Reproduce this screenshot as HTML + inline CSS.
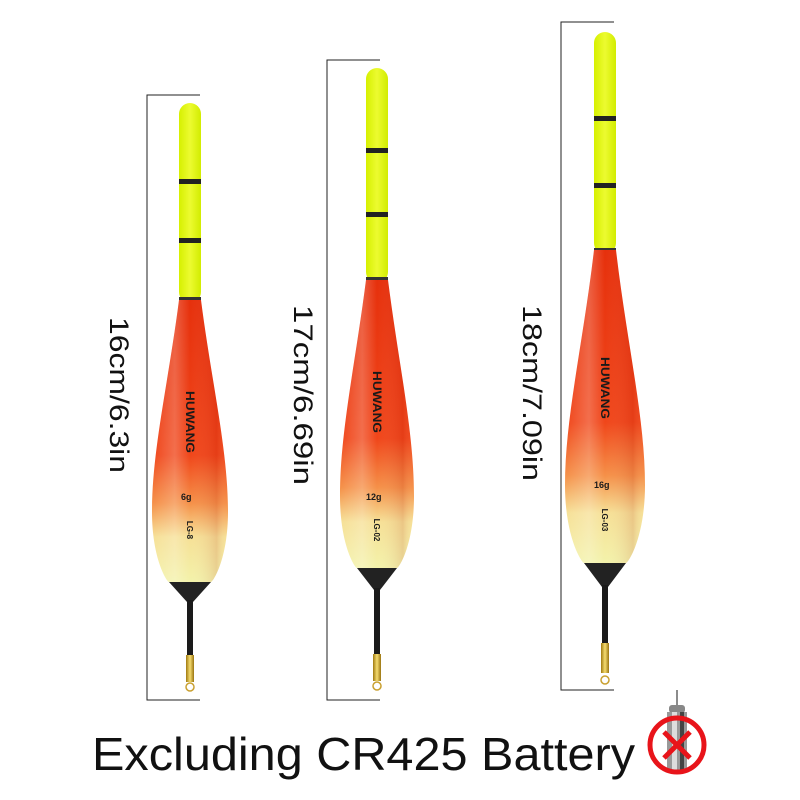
<!DOCTYPE html>
<html><head><meta charset="utf-8"><style>body{margin:0;background:#fff}svg{display:block}</style></head><body>
<svg width="800" height="800" viewBox="0 0 800 800" xmlns="http://www.w3.org/2000/svg" font-family="Liberation Sans, sans-serif">
<defs>
<linearGradient id="bg" x1="0" y1="0" x2="0" y2="1">
<stop offset="0" stop-color="#e6300c"/><stop offset="0.55" stop-color="#f0461a"/><stop offset="0.72" stop-color="#f59048"/><stop offset="0.84" stop-color="#f6e096"/><stop offset="1" stop-color="#f3f2aa"/></linearGradient>
<linearGradient id="hl" x1="0" y1="0" x2="1" y2="0">
<stop offset="0" stop-color="#fff" stop-opacity="0"/><stop offset="0.3" stop-color="#fff" stop-opacity="0.22"/><stop offset="0.5" stop-color="#fff" stop-opacity="0"/><stop offset="0.85" stop-color="#900" stop-opacity="0.12"/><stop offset="1" stop-color="#fff" stop-opacity="0"/></linearGradient>
<linearGradient id="gd" x1="0" y1="0" x2="1" y2="0"><stop offset="0" stop-color="#a07a10"/><stop offset="0.5" stop-color="#f5dc70"/><stop offset="1" stop-color="#9a7410"/></linearGradient>
<linearGradient id="yt" x1="0" y1="0" x2="1" y2="0"><stop offset="0" stop-color="#d6f000"/><stop offset="0.5" stop-color="#ecfb30"/><stop offset="1" stop-color="#d2ec00"/></linearGradient>
</defs>
<g stroke="#222" stroke-width="1" fill="none">
<path d="M200 95H147V700H200"/>
<path d="M380 60H327V700H380"/>
<path d="M614 22H561V690H614"/>
</g>
<g font-size="27" fill="#111">
<text transform="translate(110,395) rotate(90)" text-anchor="middle" textLength="156" lengthAdjust="spacingAndGlyphs">16cm/6.3in</text>
<text transform="translate(294,395) rotate(90)" text-anchor="middle" textLength="180" lengthAdjust="spacingAndGlyphs">17cm/6.69in</text>
<text transform="translate(523,393) rotate(90)" text-anchor="middle" textLength="176" lengthAdjust="spacingAndGlyphs">18cm/7.09in</text>
</g>
<!-- float 1 -->
<rect x="179" y="103" width="22" height="200" rx="11" fill="url(#yt)"/>
<rect x="179" y="179" width="22" height="5" fill="#222"/><rect x="179" y="238" width="22" height="5" fill="#222"/>
<rect x="179" y="297" width="22" height="4" fill="#333"/>
<path d="M179 300 C168 385,152 450,152 512 C152 559,167 582,169 582 L211 582 C213 582,228 559,228 512 C228 450,212 385,201 300Z" fill="url(#bg)"/>
<path d="M179 300 C168 385,152 450,152 512 C152 559,167 582,169 582 L211 582 C213 582,228 559,228 512 C228 450,212 385,201 300Z" fill="url(#hl)"/>
<path d="M169 582 L211 582 L193 602 L187 602Z" fill="#222"/>
<rect x="187" y="600" width="6" height="58" fill="#1a1a1a"/><rect x="186" y="655" width="8" height="27" fill="url(#gd)"/>
<circle cx="190" cy="687" r="4" fill="none" stroke="#c9a030" stroke-width="1.5"/>
<g font-size="12" font-weight="bold" fill="#1a1a1a">
<text transform="translate(186,422) rotate(90)" text-anchor="middle" textLength="62" lengthAdjust="spacingAndGlyphs">HUWANG</text>
<text x="181" y="500" font-size="9">6g</text>
<text transform="translate(187,530) rotate(90)" text-anchor="middle" font-size="8">LG-8</text>
</g>
<!-- float 2 -->
<rect x="366" y="68" width="22" height="215" rx="11" fill="url(#yt)"/>
<rect x="366" y="148" width="22" height="5" fill="#222"/><rect x="366" y="212" width="22" height="5" fill="#222"/>
<rect x="366" y="277" width="22" height="4" fill="#333"/>
<path d="M366 280 C355 366,340 432,340 496 C340 545,355 568,357 568 L397 568 C399 568,414 545,414 496 C414 432,399 366,388 280Z" fill="url(#bg)"/>
<path d="M366 280 C355 366,340 432,340 496 C340 545,355 568,357 568 L397 568 C399 568,414 545,414 496 C414 432,399 366,388 280Z" fill="url(#hl)"/>
<path d="M357 568 L397 568 L380 590 L374 590Z" fill="#222"/>
<rect x="374" y="588" width="6" height="70" fill="#1a1a1a"/><rect x="373" y="654" width="8" height="27" fill="url(#gd)"/>
<circle cx="377" cy="686" r="4" fill="none" stroke="#c9a030" stroke-width="1.5"/>
<g font-size="12" font-weight="bold" fill="#1a1a1a">
<text transform="translate(373,402) rotate(90)" text-anchor="middle" textLength="62" lengthAdjust="spacingAndGlyphs">HUWANG</text>
<text x="366" y="500" font-size="9">12g</text>
<text transform="translate(374,530) rotate(90)" text-anchor="middle" font-size="8">LG-02</text>
</g>
<!-- float 3 -->
<rect x="594" y="32" width="22" height="222" rx="11" fill="url(#yt)"/>
<rect x="594" y="116" width="22" height="5" fill="#222"/><rect x="594" y="183" width="22" height="5" fill="#222"/>
<rect x="594" y="248" width="22" height="4" fill="#333"/>
<path d="M594 250 C583 344,565 418,565 485 C565 538,582 563,584 563 L626 563 C628 563,645 538,645 485 C645 418,627 344,616 250Z" fill="url(#bg)"/>
<path d="M594 250 C583 344,565 418,565 485 C565 538,582 563,584 563 L626 563 C628 563,645 538,645 485 C645 418,627 344,616 250Z" fill="url(#hl)"/>
<path d="M584 563 L626 563 L608 587 L602 587Z" fill="#222"/>
<rect x="602" y="585" width="6" height="62" fill="#1a1a1a"/><rect x="601" y="643" width="8" height="30" fill="url(#gd)"/>
<circle cx="605" cy="680" r="4" fill="none" stroke="#c9a030" stroke-width="1.5"/>
<g font-size="12" font-weight="bold" fill="#1a1a1a">
<text transform="translate(601,388) rotate(90)" text-anchor="middle" textLength="62" lengthAdjust="spacingAndGlyphs">HUWANG</text>
<text x="594" y="488" font-size="9">16g</text>
<text transform="translate(602,520) rotate(90)" text-anchor="middle" font-size="8">LG-03</text>
</g>
<!-- bottom text -->
<text x="92" y="770" font-size="46" fill="#111" textLength="543" lengthAdjust="spacingAndGlyphs">Excluding CR425 Battery</text>
<g>
<line x1="677" y1="690" x2="677" y2="705" stroke="#666" stroke-width="1.5"/>
<rect x="669" y="705" width="16" height="8" rx="3" fill="#888"/>
<rect x="667" y="712" width="20" height="60" fill="#999"/>
<rect x="672" y="712" width="5" height="60" fill="#ddd"/>
<rect x="680" y="712" width="4" height="60" fill="#444"/>
<circle cx="677" cy="745" r="27" fill="none" stroke="#e8141a" stroke-width="5"/>
<path d="M664 732 L690 758 M690 732 L664 758" stroke="#e8141a" stroke-width="5"/>
</g>
</svg>
</body></html>
